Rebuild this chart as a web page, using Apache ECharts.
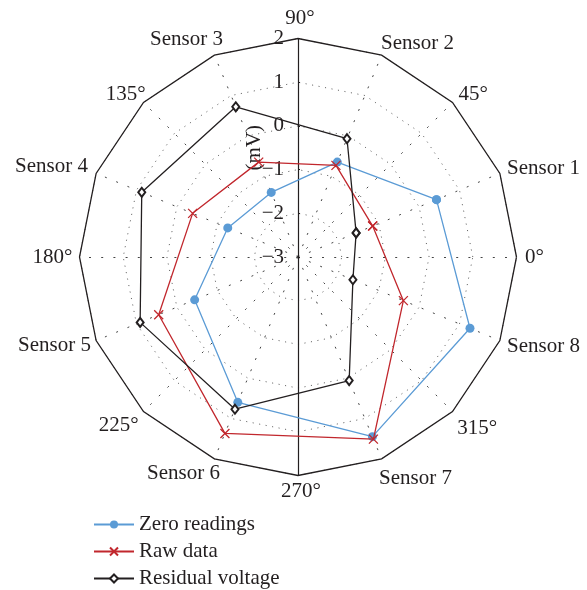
<!DOCTYPE html>
<html>
<head>
<meta charset="utf-8">
<script src="https://cdn.jsdelivr.net/npm/echarts@6/dist/echarts.min.js"></script>
<style>
  html, body { margin: 0; padding: 0; background: #ffffff; }
  #chart { width: 587px; height: 590px; }
</style>
</head>
<body>
<div id="chart"></div>
<script>
// Spoke labels around the 16-sided frame, counter-clockwise starting at 0°
const spokeLabels = ['0°', 'Sensor 1', '45°', 'Sensor 2', '90°', 'Sensor 3', '135°', 'Sensor 4',
                     '180°', 'Sensor 5', '225°', 'Sensor 6', '270°', 'Sensor 7', '315°', 'Sensor 8'];
// Angular position of each sensor (degrees, counter-clockwise from 0°)
const sensorAngles = [22.5, 67.5, 112.5, 157.5, 202.5, 247.5, 292.5, 337.5];
// Radial scale (mV): innermost value at the centre, outermost on the frame
const radialTicks = [-3, -2, -1, 0, 1, 2];

// Readings per sensor, Sensor 1 .. Sensor 8 (mV)
const zeroReadings    = [0.43, -0.65, -1.40, -1.26, -0.44, 0.60, 1.45, 1.26];
const rawData         = [-1.15, -0.73, -0.65, -0.39, 0.45, 1.37, 1.51, -0.39];
const residualVoltage = [-1.56, -0.07, 0.72, 0.87, 0.91, 0.77, 0.06, -1.64];

const seriesNames = ['Zero readings', 'Raw data', 'Residual voltage'];

const FONT = 'Liberation Serif';
const INK = '#231f20';
const BLUE = '#5b9bd5';
const RED = '#c1272d';

const CX = 298, CY = 257, R = 218.5;
const rMin = radialTicks[0];
const rMax = radialTicks[radialTicks.length - 1];
const rSteps = radialTicks.length - 1;

// Fine placement of each spoke label around its anchor point [dx, dy] in px
const labelNudge = [[0, 0], [27, 2], [8, 5], [29, 5], [2, -2], [-21, 1], [-5, 5], [-28, 0],
                    [-9, 0], [-25, -2], [-12, 1], [-24, -2], [3, -2], [27, 3], [12, 4], [27, -1]];

// One rich style per label: padding moves the centred text by half its amount
const labelRich = {};
labelNudge.forEach(([dx, dy], i) => {
  labelRich['s' + i] = {
    fontFamily: FONT, fontSize: 21, color: INK,
    padding: [Math.max(0, 2 * dy), Math.max(0, -2 * dx), Math.max(0, -2 * dy), Math.max(0, 2 * dx)]
  };
});

// Close each sensor loop by returning to the first sensor
function ring(values) {
  const pts = values.map((v, i) => [v, sensorAngles[i]]);
  pts.push(pts[0]);
  return pts;
}

const indicators = spokeLabels.map(name => ({ name: name, min: rMin, max: rMax }));

const chart = echarts.init(document.getElementById('chart'), null, { renderer: 'canvas' });

const minus = v => String(v).replace('-', '\u2212');

chart.setOption({
  backgroundColor: '#ffffff',
  animation: false,
  textStyle: { fontFamily: FONT },
  radar: [
    {
      // dotted grid polygons, dotted spokes, and spoke labels
      center: [CX, CY],
      radius: R,
      startAngle: 0,
      shape: 'polygon',
      splitNumber: rSteps,
      indicator: indicators,
      axisNameGap: 18,
      axisName: {
        color: INK, fontFamily: FONT, fontSize: 21,
        align: 'center', verticalAlign: 'middle',
        formatter: name => '{s' + spokeLabels.indexOf(name) + '|' + name + '}',
        rich: labelRich
      },
      axisLine: { show: true, lineStyle: { color: '#444', width: 1, type: [1.2, 11] } },
      axisTick: { show: false },
      axisLabel: { show: false },
      splitLine: { show: true, lineStyle: { color: '#666', width: 1, type: [1.1, 5.5] } },
      splitArea: { show: false }
    },
    {
      // solid outer frame
      center: [CX, CY],
      radius: R,
      startAngle: 0,
      shape: 'polygon',
      splitNumber: 1,
      indicator: indicators,
      axisName: { show: false },
      axisLine: { show: false },
      axisTick: { show: false },
      axisLabel: { show: false },
      splitLine: { show: true, lineStyle: { color: INK, width: 1.3, type: 'solid' } },
      splitArea: { show: false }
    }
  ],
  polar: { center: [CX, CY], radius: R },
  angleAxis: {
    type: 'value', min: 0, max: 360, startAngle: 0, clockwise: false,
    axisLine: { show: false }, axisTick: { show: false },
    axisLabel: { show: false }, splitLine: { show: false }
  },
  radiusAxis: {
    type: 'value', min: rMin, max: rMax,
    axisLine: { show: false }, axisTick: { show: false },
    axisLabel: { show: false }, splitLine: { show: false }
  },
  grid: [
    { left: CX, top: CY - R, width: 10, height: R },
    { left: CX, top: CY, width: 10, height: R }
  ],
  xAxis: [
    { gridIndex: 0, type: 'value', show: false },
    { gridIndex: 1, type: 'value', show: false }
  ],
  yAxis: [
    {
      gridIndex: 0, type: 'value', min: rMin, max: rMax, interval: 1,
      position: 'left',
      name: '(mV)', nameLocation: 'middle', nameGap: 33, nameRotate: 90,
      nameMoveOverlap: false,
      nameTextStyle: { color: INK, fontFamily: FONT, fontSize: 21 },
      axisLine: { show: true, lineStyle: { color: INK, width: 1.2 } },
      axisTick: { show: true, inside: true, length: 2, lineStyle: { color: INK } },
      axisLabel: { color: INK, fontFamily: FONT, fontSize: 21, margin: 14, formatter: minus },
      splitLine: { show: false }
    },
    {
      gridIndex: 1, type: 'value', min: 0, max: 1, position: 'left',
      axisLine: { show: true, lineStyle: { color: INK, width: 1.2 } },
      axisTick: { show: false }, axisLabel: { show: false }, splitLine: { show: false }
    }
  ],
  legend: {
    orient: 'vertical',
    left: 93,
    top: 514,
    padding: 0,
    itemWidth: 40,
    itemHeight: 10,
    itemGap: 6,
    textStyle: { color: INK, fontFamily: FONT, fontSize: 21 },
    data: seriesNames
  },
  series: [
    {
      name: seriesNames[0], type: 'line', coordinateSystem: 'polar',
      data: ring(zeroReadings),
      symbol: 'circle', symbolSize: 9,
      lineStyle: { color: BLUE, width: 1.3 },
      itemStyle: { color: BLUE },
      z: 3
    },
    {
      name: seriesNames[1], type: 'line', coordinateSystem: 'polar',
      data: ring(rawData),
      symbol: 'path://M0,0L10,10M10,0L0,10', symbolSize: 9,
      lineStyle: { color: RED, width: 1.3 },
      itemStyle: { color: RED, borderColor: RED, borderWidth: 1.3 },
      z: 4
    },
    {
      name: seriesNames[2], type: 'line', coordinateSystem: 'polar',
      data: ring(residualVoltage),
      symbol: 'emptyDiamond', symbolSize: [7, 9],
      lineStyle: { color: INK, width: 1.3 },
      itemStyle: { color: INK, borderColor: INK, borderWidth: 1.2 },
      z: 5
    }
  ]
});
</script>
</body>
</html>
